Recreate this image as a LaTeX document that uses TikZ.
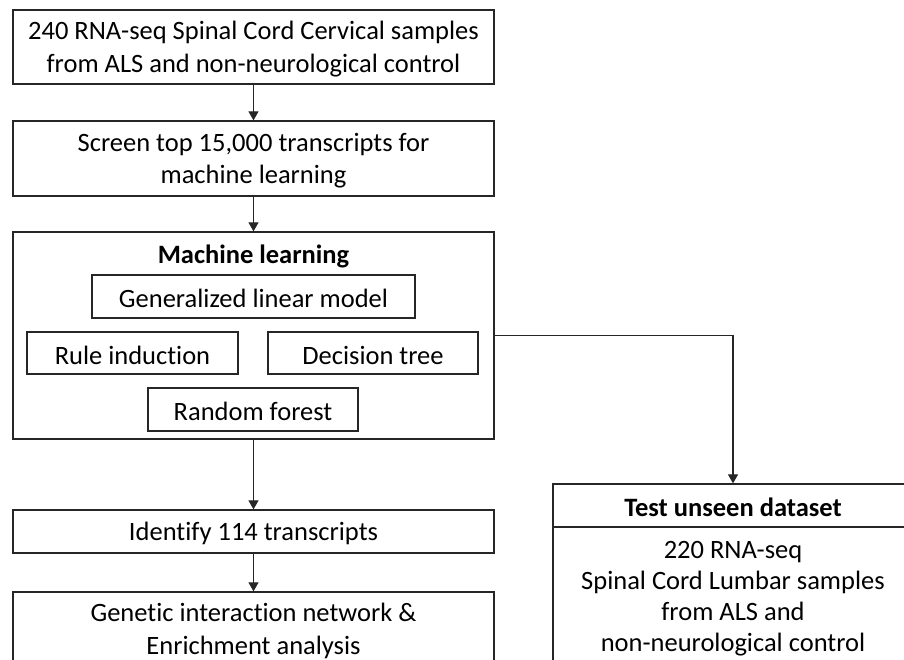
\documentclass[tikz,border=0pt]{standalone}
\usepackage{fontspec}
\setmainfont[Ligatures={NoCommon}]{Carlito}
\usetikzlibrary{arrows.meta}
\begin{document}
\begin{tikzpicture}[x=1pt,y=-1pt,
  box/.style={draw=black!85, line width=1.3pt, fill=white, align=center, inner sep=0pt,
    font=\fontsize{26.5}{32.5}\selectfont},
  lbl/.style={inner sep=0pt, align=center, font=\fontsize{26.5}{32.5}\selectfont},
  arr/.style={draw=black!85, line width=1.2pt, -{Triangle[width=10pt,length=9pt]}}]
\useasboundingbox (0,0) rectangle (904,660);
\clip (0,0) rectangle (904,660);
\fill[white] (0,0) rectangle (904,660);
\node[box, minimum width=481, minimum height=74] (b1) at (253.5,47) {};
\node[lbl] (b1t) at (253.5,49)
  {240 RNA-seq Spinal Cord Cervical samples\\from ALS and non-neurological control};
\node[box, minimum width=481, minimum height=75] (b2) at (253.5,158.5) {};
\node[lbl] (b2t) at (253.5,160.5)
  {Screen top 15,000 transcripts for\\machine learning};
\node[box, minimum width=481, minimum height=207] (ml) at (253.5,335.5) {};
\node[lbl, font=\fontsize{26.5}{32.5}\selectfont\bfseries] (mlt) at (253.5,256) {Machine learning};
\node[box, minimum width=323, minimum height=43] (glm) at (253.5,296.5) {};
\node[lbl] (glmt) at (253.5,298.5) {Generalized linear model};
\node[box, minimum width=211, minimum height=42] (ri) at (132.5,353) {};
\node[lbl] (rit) at (132.5,355) {Rule induction};
\node[box, minimum width=210, minimum height=42] (dt) at (373,353) {};
\node[lbl] (dtt) at (373,355) {Decision tree};
\node[box, minimum width=210, minimum height=43] (rf) at (253,409.5) {};
\node[lbl] (rft) at (253,411.5) {Random forest};
\node[box, minimum width=481, minimum height=43] (b4) at (253.5,531.5) {};
\node[lbl] (b4t) at (253.5,533.5) {Identify 114 transcripts};
\node[box, minimum width=481, minimum height=78] (b5) at (253.5,631) {};
\node[lbl] (b5t) at (253.5,631)
  {Genetic interaction network \&\\Enrichment analysis};
\node[box, minimum width=360, minimum height=150] (tb) at (733,602) {};
\node[box, minimum width=360, minimum height=43] (th) at (733,505.5) {};
\node[lbl, font=\fontsize{26.5}{32.5}\selectfont\bfseries] (tht) at (733,507.5) {Test unseen dataset};
\node[lbl, font=\fontsize{26.5}{31}\selectfont] (tt) at (733,598.5)
  {220 RNA-seq\\Spinal Cord Lumbar samples\\from ALS and\\non-neurological control};
\draw[arr] (b1) -- (b2);
\draw[arr] (b2) -- (ml);
\draw[arr] (ml) -- (b4);
\draw[arr] (b4) -- (b5);
\draw[arr] (ml.east) -| (th.north);
\end{tikzpicture}
\end{document}
